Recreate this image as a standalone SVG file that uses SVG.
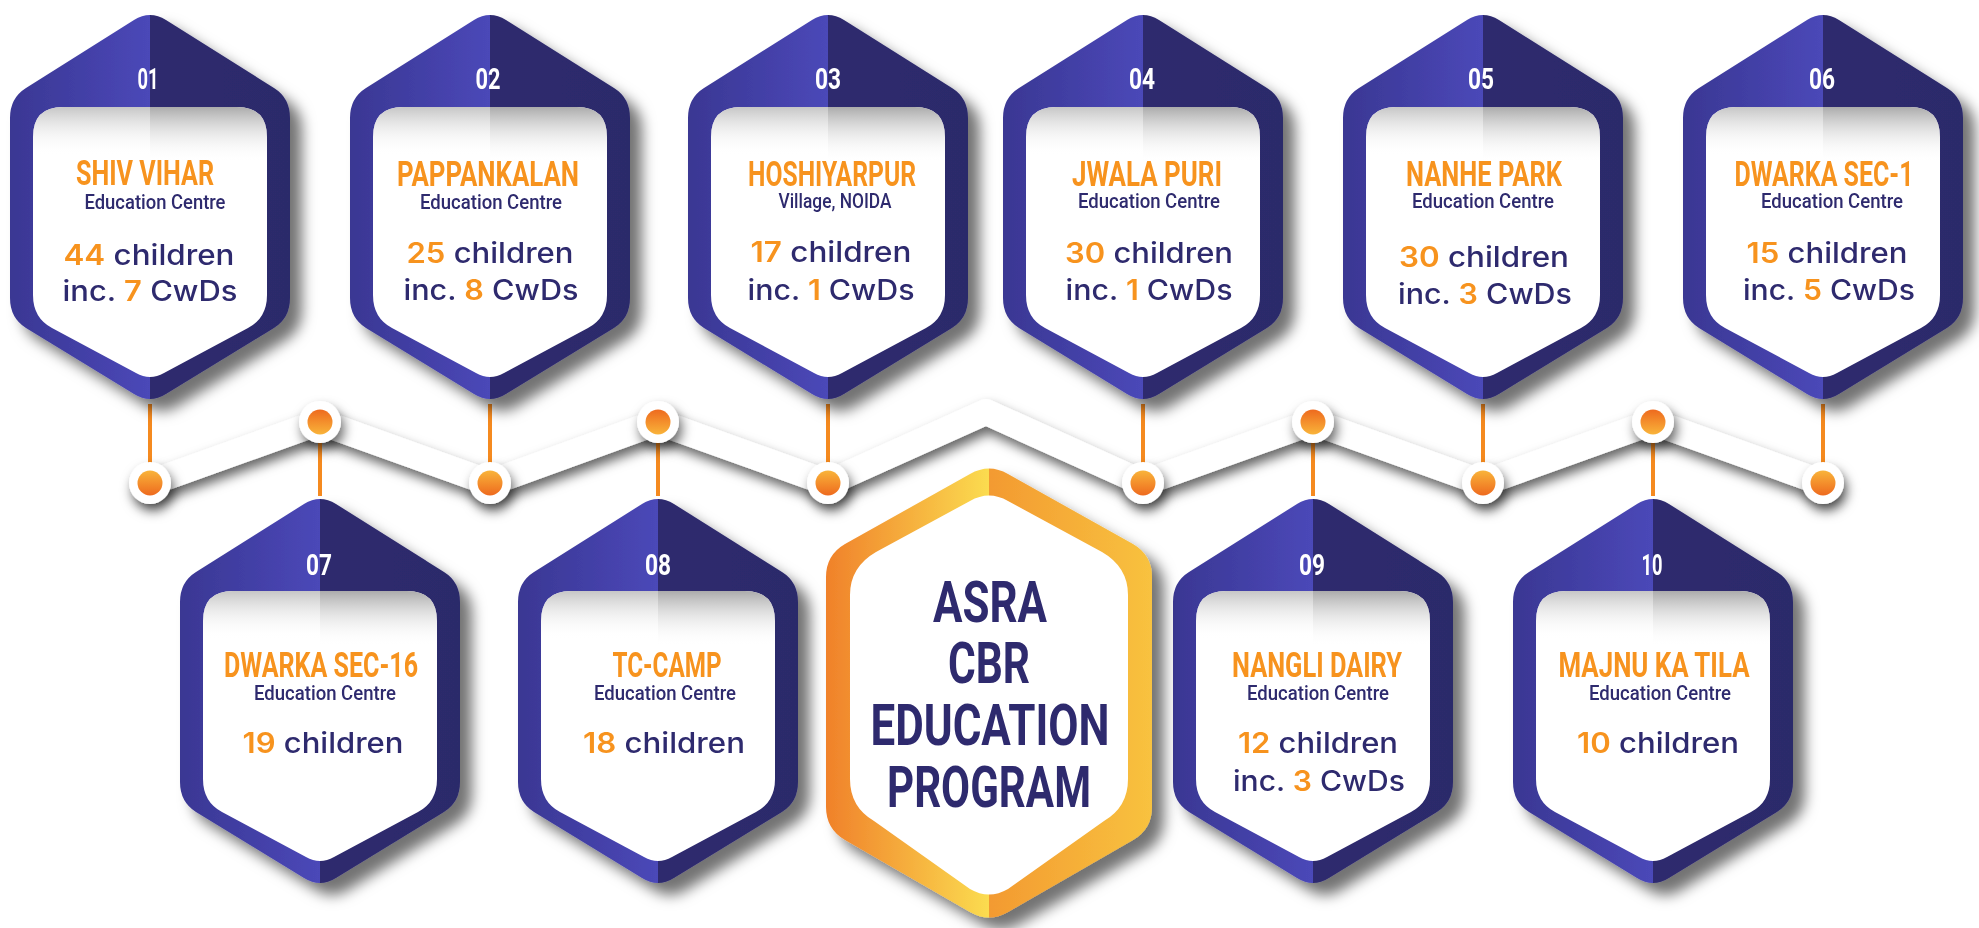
<svg xmlns="http://www.w3.org/2000/svg" xmlns:xlink="http://www.w3.org/1999/xlink" width="1979" height="928" viewBox="0 0 1979 928">
<defs>
<style>
.num{font-family:Roboto,"Liberation Sans",sans-serif;font-weight:700;font-size:29px;fill:#ffffff;text-anchor:middle}
.ttl{font-family:Roboto,"Liberation Sans",sans-serif;font-weight:700;font-size:35px;fill:#f7931e;text-anchor:middle}
.sub{font-family:Roboto,"Liberation Sans",sans-serif;font-weight:500;font-size:20px;fill:#2e2a6e;text-anchor:middle}
.cnt{font-family:Inter,"Noto Sans",sans-serif;font-weight:500;font-size:28px;fill:#2e2a6e;text-anchor:middle}
.o{fill:#f7931e;font-weight:600}
.big{font-family:Roboto,"Liberation Sans",sans-serif;font-weight:700;font-size:58px;fill:#2e2a6e;text-anchor:middle}
.vline{stroke:#f58a1f;stroke-width:4}
.ring{fill:#ffffff}
</style>
<filter id="sh" x="-20%" y="-20%" width="150%" height="150%">
<feDropShadow dx="12" dy="12" stdDeviation="7" flood-color="#000" flood-opacity="0.55"/>
</filter>
<filter id="bsh" x="-5%" y="-60%" width="110%" height="220%">
<feDropShadow dx="3" dy="7" stdDeviation="6" flood-color="#000" flood-opacity="0.6"/>
</filter>
<linearGradient id="hexG" x1="0" y1="0" x2="1" y2="0">
<stop offset="0" stop-color="#3a3793"/>
<stop offset="0.5" stop-color="#4b48b8"/>
<stop offset="0.5" stop-color="#2e2a6e"/>
<stop offset="1" stop-color="#2c296b"/>
</linearGradient>
<linearGradient id="orG" x1="0" y1="0" x2="1" y2="0">
<stop offset="0" stop-color="#f0812a"/>
<stop offset="0.5" stop-color="#fbdc50"/>
<stop offset="0.5" stop-color="#f39a31"/>
<stop offset="1" stop-color="#f8c23f"/>
</linearGradient>
<linearGradient id="shL" x1="0" y1="0" x2="0" y2="1">
<stop offset="0" stop-color="#c6c6c6"/>
<stop offset="1" stop-color="#ffffff" stop-opacity="0"/>
</linearGradient>
<linearGradient id="shR" x1="0" y1="0" x2="0" y2="1">
<stop offset="0" stop-color="#ababab"/>
<stop offset="1" stop-color="#ffffff" stop-opacity="0"/>
</linearGradient>
<linearGradient id="dotDn" x1="0" y1="0" x2="0" y2="1">
<stop offset="0" stop-color="#f9b43a"/>
<stop offset="1" stop-color="#ee6a1e"/>
</linearGradient>
<linearGradient id="dotUp" x1="0" y1="0" x2="0" y2="1">
<stop offset="0" stop-color="#ee6a1e"/>
<stop offset="1" stop-color="#f9b43a"/>
</linearGradient>
<clipPath id="innerClip">
<path d="M -87,97 L 87,97 Q 117,97 117,127 L 117,285 Q 117,308 98,318 L 14,363 Q 0,371 -14,363 L -98,318 Q -117,308 -117,285 L -117,127 Q -117,97 -87,97 Z"/>
</clipPath>
<g id="card">
<path d="M -16,10 Q 0,0 16,10 L 124,78 Q 140,88 140,108 L 140,288 Q 140,308 124,318 L 16,384 Q 0,394 -16,384 L -124,318 Q -140,308 -140,288 L -140,108 Q -140,88 -124,78 Z" fill="url(#hexG)"/>
<path d="M -87,97 L 87,97 Q 117,97 117,127 L 117,285 Q 117,308 98,318 L 14,363 Q 0,371 -14,363 L -98,318 Q -117,308 -117,285 L -117,127 Q -117,97 -87,97 Z" fill="#ffffff"/>
<g clip-path="url(#innerClip)">
<rect x="-117" y="97" width="117" height="48" fill="url(#shL)"/>
<rect x="0" y="97" width="117" height="55" fill="url(#shR)"/>
</g>
</g>
<circle id="ring" r="21" class="ring"/>
</defs>
<rect width="1979" height="928" fill="#ffffff"/>

<g id="connectors">
<polyline points="150,483 320,422 490,483 658,422 828,483 986,412 1143,483 1313,422 1483,483 1653,422 1823,483" fill="none" stroke="#ffffff" stroke-width="26" stroke-linejoin="round" stroke-linecap="round" filter="url(#bsh)"/>
<line class="vline" x1="150" y1="404" x2="150" y2="483"/>
<line class="vline" x1="490" y1="404" x2="490" y2="483"/>
<line class="vline" x1="828" y1="404" x2="828" y2="483"/>
<line class="vline" x1="1143" y1="404" x2="1143" y2="483"/>
<line class="vline" x1="1483" y1="404" x2="1483" y2="483"/>
<line class="vline" x1="1823" y1="404" x2="1823" y2="483"/>
<line class="vline" x1="320" y1="422" x2="320" y2="496"/>
<line class="vline" x1="658" y1="422" x2="658" y2="496"/>
<line class="vline" x1="1313" y1="422" x2="1313" y2="496"/>
<line class="vline" x1="1653" y1="422" x2="1653" y2="496"/>
<g filter="url(#bsh)">
<use href="#ring" x="150" y="483"/>
<use href="#ring" x="490" y="483"/>
<use href="#ring" x="828" y="483"/>
<use href="#ring" x="1143" y="483"/>
<use href="#ring" x="1483" y="483"/>
<use href="#ring" x="1823" y="483"/>
<use href="#ring" x="320" y="422"/>
<use href="#ring" x="658" y="422"/>
<use href="#ring" x="1313" y="422"/>
<use href="#ring" x="1653" y="422"/>
</g>
<g fill="url(#dotDn)">
<circle cx="150" cy="483" r="12.5"/>
<circle cx="490" cy="483" r="12.5"/>
<circle cx="828" cy="483" r="12.5"/>
<circle cx="1143" cy="483" r="12.5"/>
<circle cx="1483" cy="483" r="12.5"/>
<circle cx="1823" cy="483" r="12.5"/>
</g>
<g fill="url(#dotUp)">
<circle cx="320" cy="422" r="12.5"/>
<circle cx="658" cy="422" r="12.5"/>
<circle cx="1313" cy="422" r="12.5"/>
<circle cx="1653" cy="422" r="12.5"/>
</g>
</g>

<g id="node01">
<use href="#card" transform="translate(150,10)" filter="url(#sh)"/>
<text class="num" x="148" y="89" textLength="21" lengthAdjust="spacingAndGlyphs">01</text>
<text class="ttl" x="145" y="185" textLength="138" lengthAdjust="spacingAndGlyphs">SHIV VIHAR</text>
<text class="sub" x="155" y="209" textLength="141" lengthAdjust="spacingAndGlyphs">Education Centre</text>
<text class="cnt" x="149" y="265" textLength="171" lengthAdjust="spacingAndGlyphs"><tspan class="o">44</tspan> children</text>
<text class="cnt" x="150" y="301" textLength="175" lengthAdjust="spacingAndGlyphs">inc. <tspan class="o">7</tspan> CwDs</text>
</g>

<g id="node02">
<use href="#card" transform="translate(490,10)" filter="url(#sh)"/>
<text class="num" x="488" y="89" textLength="25" lengthAdjust="spacingAndGlyphs">02</text>
<text class="ttl" x="488" y="186" textLength="182" lengthAdjust="spacingAndGlyphs">PAPPANKALAN</text>
<text class="sub" x="491" y="209" textLength="142" lengthAdjust="spacingAndGlyphs">Education Centre</text>
<text class="cnt" x="490" y="263" textLength="167" lengthAdjust="spacingAndGlyphs"><tspan class="o">25</tspan> children</text>
<text class="cnt" x="491" y="300" textLength="175" lengthAdjust="spacingAndGlyphs">inc. <tspan class="o">8</tspan> CwDs</text>
</g>

<g id="node03">
<use href="#card" transform="translate(828,10)" filter="url(#sh)"/>
<text class="num" x="828" y="89" textLength="26" lengthAdjust="spacingAndGlyphs">03</text>
<text class="ttl" x="832" y="186" textLength="168" lengthAdjust="spacingAndGlyphs">HOSHIYARPUR</text>
<text class="sub" x="835" y="208" textLength="113" lengthAdjust="spacingAndGlyphs">Village, NOIDA</text>
<text class="cnt" x="831" y="262" textLength="161" lengthAdjust="spacingAndGlyphs"><tspan class="o">17</tspan> children</text>
<text class="cnt" x="831" y="300" textLength="167" lengthAdjust="spacingAndGlyphs">inc. <tspan class="o">1</tspan> CwDs</text>
</g>

<g id="node04">
<use href="#card" transform="translate(1143,10)" filter="url(#sh)"/>
<text class="num" x="1142" y="89" textLength="26" lengthAdjust="spacingAndGlyphs">04</text>
<text class="ttl" x="1147" y="186" textLength="150" lengthAdjust="spacingAndGlyphs">JWALA PURI</text>
<text class="sub" x="1149" y="208" textLength="142" lengthAdjust="spacingAndGlyphs">Education Centre</text>
<text class="cnt" x="1149" y="263" textLength="168" lengthAdjust="spacingAndGlyphs"><tspan class="o">30</tspan> children</text>
<text class="cnt" x="1149" y="300" textLength="167" lengthAdjust="spacingAndGlyphs">inc. <tspan class="o">1</tspan> CwDs</text>
</g>

<g id="node05">
<use href="#card" transform="translate(1483,10)" filter="url(#sh)"/>
<text class="num" x="1481" y="89" textLength="26" lengthAdjust="spacingAndGlyphs">05</text>
<text class="ttl" x="1484" y="186" textLength="156" lengthAdjust="spacingAndGlyphs">NANHE PARK</text>
<text class="sub" x="1483" y="208" textLength="142" lengthAdjust="spacingAndGlyphs">Education Centre</text>
<text class="cnt" x="1484" y="267" textLength="170" lengthAdjust="spacingAndGlyphs"><tspan class="o">30</tspan> children</text>
<text class="cnt" x="1485" y="304" textLength="174" lengthAdjust="spacingAndGlyphs">inc. <tspan class="o">3</tspan> CwDs</text>
</g>

<g id="node06">
<use href="#card" transform="translate(1823,10)" filter="url(#sh)"/>
<text class="num" x="1822" y="89" textLength="26" lengthAdjust="spacingAndGlyphs">06</text>
<text class="ttl" x="1824" y="186" textLength="179" lengthAdjust="spacingAndGlyphs">DWARKA SEC-1</text>
<text class="sub" x="1832" y="208" textLength="142" lengthAdjust="spacingAndGlyphs">Education Centre</text>
<text class="cnt" x="1827" y="263" textLength="161" lengthAdjust="spacingAndGlyphs"><tspan class="o">15</tspan> children</text>
<text class="cnt" x="1829" y="300" textLength="172" lengthAdjust="spacingAndGlyphs">inc. <tspan class="o">5</tspan> CwDs</text>
</g>

<g id="node07">
<use href="#card" transform="translate(320,494)" filter="url(#sh)"/>
<text class="num" x="319" y="575" textLength="26" lengthAdjust="spacingAndGlyphs">07</text>
<text class="ttl" x="321" y="677" textLength="194" lengthAdjust="spacingAndGlyphs">DWARKA SEC-16</text>
<text class="sub" x="325" y="700" textLength="142" lengthAdjust="spacingAndGlyphs">Education Centre</text>
<text class="cnt" x="323" y="753" textLength="161" lengthAdjust="spacingAndGlyphs"><tspan class="o">19</tspan> children</text>
</g>

<g id="node08">
<use href="#card" transform="translate(658,494)" filter="url(#sh)"/>
<text class="num" x="658" y="575" textLength="26" lengthAdjust="spacingAndGlyphs">08</text>
<text class="ttl" x="667" y="677" textLength="109" lengthAdjust="spacingAndGlyphs">TC-CAMP</text>
<text class="sub" x="665" y="700" textLength="142" lengthAdjust="spacingAndGlyphs">Education Centre</text>
<text class="cnt" x="664" y="753" textLength="162" lengthAdjust="spacingAndGlyphs"><tspan class="o">18</tspan> children</text>
</g>

<g id="node09">
<use href="#card" transform="translate(1313,494)" filter="url(#sh)"/>
<text class="num" x="1312" y="575" textLength="26" lengthAdjust="spacingAndGlyphs">09</text>
<text class="ttl" x="1317" y="677" textLength="170" lengthAdjust="spacingAndGlyphs">NANGLI DAIRY</text>
<text class="sub" x="1318" y="700" textLength="142" lengthAdjust="spacingAndGlyphs">Education Centre</text>
<text class="cnt" x="1318" y="753" textLength="160" lengthAdjust="spacingAndGlyphs"><tspan class="o">12</tspan> children</text>
<text class="cnt" x="1319" y="791" textLength="172" lengthAdjust="spacingAndGlyphs">inc. <tspan class="o">3</tspan> CwDs</text>
</g>

<g id="node10">
<use href="#card" transform="translate(1653,494)" filter="url(#sh)"/>
<text class="num" x="1652" y="575" textLength="21" lengthAdjust="spacingAndGlyphs">10</text>
<text class="ttl" x="1654" y="677" textLength="191" lengthAdjust="spacingAndGlyphs">MAJNU KA TILA</text>
<text class="sub" x="1660" y="700" textLength="142" lengthAdjust="spacingAndGlyphs">Education Centre</text>
<text class="cnt" x="1658" y="753" textLength="162" lengthAdjust="spacingAndGlyphs"><tspan class="o">10</tspan> children</text>
</g>

<g id="asra">
<g transform="translate(989,463)">
<path d="M -19,11 Q 0,0 19,11 L 144,81 Q 163,92 163,114 L 163,344 Q 163,366 144,377 L 19,449 Q 0,460 -19,449 L -144,377 Q -163,366 -163,344 L -163,114 Q -163,92 -144,81 Z" fill="url(#orG)" filter="url(#sh)"/>
<path d="M -19,38 Q 0,27 19,38 L 113,89 Q 139,104 139,132 L 139,316 Q 139,344 115,358 L 19,426 Q 0,437 -19,426 L -115,358 Q -139,344 -139,316 L -139,132 Q -139,104 -113,89 Z" fill="#ffffff"/>
</g>
<text class="big" x="990" y="622" textLength="114" lengthAdjust="spacingAndGlyphs">ASRA</text>
<text class="big" x="989" y="683" textLength="82" lengthAdjust="spacingAndGlyphs">CBR</text>
<text class="big" x="990" y="745" textLength="239" lengthAdjust="spacingAndGlyphs">EDUCATION</text>
<text class="big" x="989" y="807" textLength="204" lengthAdjust="spacingAndGlyphs">PROGRAM</text>
</g>
</svg>
